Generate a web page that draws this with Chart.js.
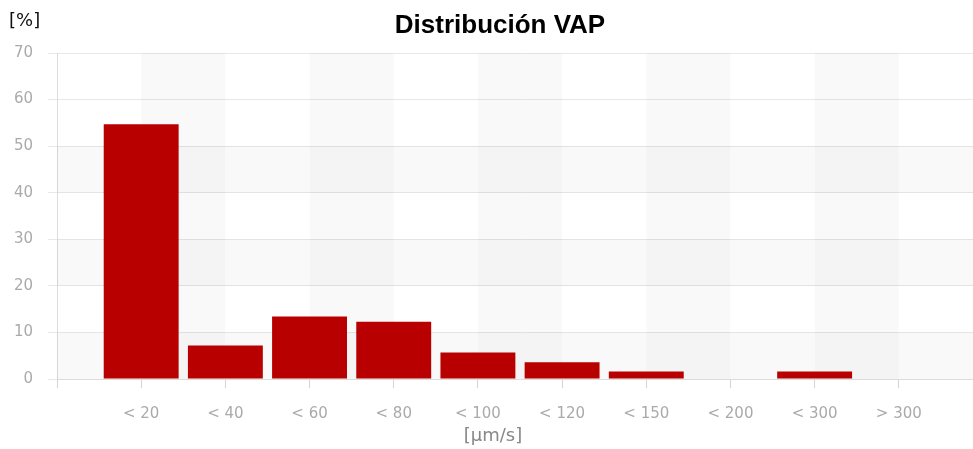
<!DOCTYPE html>
<html>
<head>
<meta charset="utf-8">
<script src="https://cdn.jsdelivr.net/npm/chart.js@4"></script>
<style>
  html, body { margin: 0; padding: 0; background: #fff; }
  #wrap { width: 973px; height: 449px; overflow: hidden; position: relative; }
</style>
</head>
<body>
<div id="wrap"><canvas id="myChart" width="1000" height="449"></canvas></div>
<script>
const categories = ['< 20', '< 40', '< 60', '< 80', '< 100', '< 120', '< 150', '< 200', '< 300', '> 300'];
const vapValues = [54.7, 7.2, 13.4, 12.3, 5.7, 3.6, 1.6, 0, 1.6, 0];
const yTicks = [0, 10, 20, 30, 40, 50, 60, 70];

// empty slot on both sides, like the original plot
const labels = [''].concat(categories, ['']);
const data = [null].concat(vapValues, [null]);

const font = "'DejaVu Sans', sans-serif";
const titleFont = "'Liberation Sans', Arial, sans-serif";

const bands = {
  id: 'bands',
  beforeDatasetsDraw(chart) {
    const { ctx, chartArea, scales } = chart;
    ctx.save();
    ctx.fillStyle = 'rgba(0,0,0,0.024)';
    // vertical bands between category centres
    for (let i = 1; i < labels.length - 1; i += 2) {
      const x1 = scales.x.getPixelForValue(i);
      const x2 = scales.x.getPixelForValue(i + 1);
      ctx.fillRect(x1, chartArea.top, x2 - x1, chartArea.bottom - chartArea.top);
    }
    // horizontal bands
    for (let v = 0; v < 60; v += 20) {
      const y1 = scales.y.getPixelForValue(v + 10);
      const y2 = scales.y.getPixelForValue(v);
      ctx.fillRect(chartArea.left, y1, chartArea.right - chartArea.left, y2 - y1);
    }
    ctx.restore();
  },
  afterDraw(chart) {
    const ctx = chart.ctx;
    ctx.save();
    ctx.textBaseline = 'middle';
    ctx.fillStyle = '#000';
    ctx.font = 'bold 26px ' + titleFont;
    ctx.textAlign = 'center';
    ctx.fillText('Distribución VAP', 500, 26);
    ctx.font = '18px ' + font;
    ctx.textAlign = 'left';
    ctx.fillStyle = '#111';
    ctx.fillText('[%]', 9, 21);
    ctx.fillStyle = '#888';
    ctx.textAlign = 'center';
    ctx.fillText('[µm/s]', 493, 436);
    ctx.restore();
  }
};

const ctx = document.getElementById('myChart').getContext('2d');

const chart = new Chart(ctx, {
  type: 'bar',
  data: {
    labels: labels,
    datasets: [{
      label: 'VAP',
      backgroundColor: '#b80000',
      borderColor: '#b80000',
      data: data,
      barPercentage: 0.89,
      categoryPercentage: 1,
    }]
  },
  plugins: [bands],
  options: {
    responsive: false,
    animation: false,
    devicePixelRatio: 1,
    layout: { padding: { top: 53, right: 0, left: 0, bottom: 0 } },
    plugins: {
      legend: { display: false },
      tooltip: { enabled: false },
    },
    scales: {
      x: {
        offset: false,
        grid: { offset: false, drawOnChartArea: false, drawTicks: true, tickLength: 9, color: '#d4d4d4' },
        border: { color: '#dcdcdc' },
        ticks: {
          color: '#aaa',
          font: { family: font, size: 15 },
          padding: 17,
          maxRotation: 0,
          autoSkip: false,
        },
        afterFit(scale) { scale.height = 70; },
      },
      y: {
        min: 0,
        max: 70,
        afterBuildTicks(scale) { scale.ticks = yTicks.map(v => ({ value: v })); },
        grid: { color: '#e8e8e8', tickLength: 9 },
        border: { color: '#dcdcdc' },
        ticks: {
          color: '#aaa',
          font: { family: font, size: 15 },
          padding: 15,
        },
        afterFit(scale) { scale.width = 57; },
      },
    },
  },
});
</script>
</body>
</html>
